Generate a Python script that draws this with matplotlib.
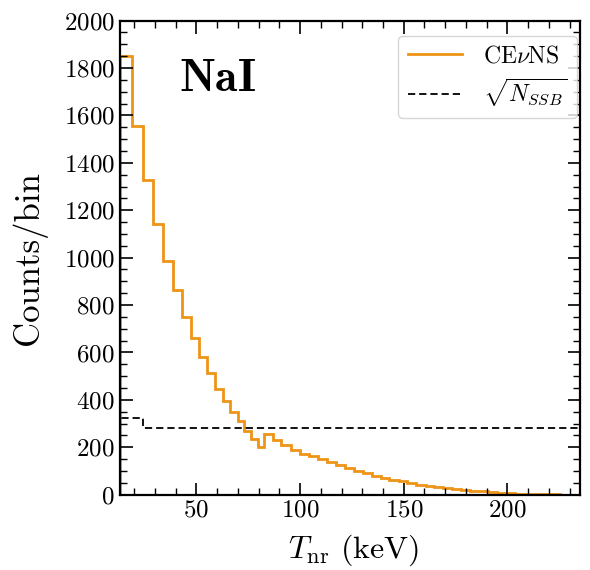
import numpy as np
import matplotlib
matplotlib.use("Agg")
import matplotlib.pyplot as plt
from matplotlib.ticker import MultipleLocator

plt.rcParams['font.family'] = 'serif'
plt.rcParams['font.serif'] = ['cmr10']
plt.rcParams['mathtext.fontset'] = 'cm'
plt.rcParams['axes.unicode_minus'] = False
plt.rcParams['axes.formatter.use_mathtext'] = True

# Bin edges (keV) and counts per bin
bin_edges = [13.0, 18.8, 24.1, 29.2, 34.0, 38.5, 43.0, 47.3, 51.4, 55.1, 58.9,
             62.6, 66.4, 69.8, 73.0, 76.5, 79.6, 82.6, 86.8, 91.0, 95.6, 99.8,
             104.1, 108.5, 112.8, 117.1, 121.5, 125.8, 130.1, 134.5, 138.8,
             143.1, 147.5, 151.8, 156.1, 160.5, 164.8, 169.1, 173.5, 177.8,
             182.1, 186.5, 190.8, 195.1, 199.5, 203.8, 208.1, 212.5, 216.8,
             221.1, 225.5, 229.8, 235.0]
cevns_counts = [1850, 1555, 1326, 1142, 987, 862, 750, 660, 581, 512, 447,
                396, 350, 310, 269, 234, 203, 258, 232, 211, 190,
                173, 162, 150, 138, 125, 113, 102, 90, 80, 71,
                63, 56, 49, 43, 38, 33, 28, 24, 20, 17,
                14, 11, 9, 7, 5, 4, 3, 2, 1.5, 1, 0.5]
ssb_sqrt = [323, 323] + [281] * (len(bin_edges) - 3)

fig = plt.figure(figsize=(5.9, 5.7), dpi=100)
ax = fig.add_axes([0.203, 0.132, 0.78, 0.832])

edges = np.array(bin_edges)
c = np.array(cevns_counts, dtype=float)
s = np.array(ssb_sqrt, dtype=float)

ax.stairs(c, edges, color='#EE9416', lw=2.0, label=r'CE$\nu$NS')
ax.stairs(s, edges, color='black', lw=1.3, ls=(0, (4, 2.2)), label=r'$\sqrt{N_{SSB}}$')

ax.set_xlim(13, 235)
ax.set_ylim(0, 2000)
ax.xaxis.set_major_locator(MultipleLocator(50))
ax.xaxis.set_minor_locator(MultipleLocator(10))
ax.yaxis.set_major_locator(MultipleLocator(200))
ax.yaxis.set_minor_locator(MultipleLocator(50))
ax.tick_params(which='both', direction='in', top=True, right=True, labelsize=18)
ax.tick_params(which='major', length=9, width=1.2)
ax.tick_params(which='minor', length=5, width=1.0)
for sp in ax.spines.values():
    sp.set_linewidth(1.6)

ax.set_xlabel(r'$T_{\rm nr}$ (keV)', fontsize=23)
ax.xaxis.set_label_coords(0.509, -0.08)
ax.set_ylabel('Counts/bin', fontsize=25, labelpad=12)

ax.text(0.212, 0.877, r'$\mathbf{NaI}$', transform=ax.transAxes,
        fontsize=33, ha='center', va='center')

leg = ax.legend(loc='upper right', bbox_to_anchor=(0.9935, 0.968),
                fontsize=17, frameon=True, fancybox=True,
                handlelength=2.3, borderpad=0.4, labelspacing=0.38,
                handletextpad=0.9, borderaxespad=0.0)
leg.get_frame().set_edgecolor('#cccccc')
leg.get_frame().set_linewidth(1.0)

fig.savefig('out.png', dpi=100)
